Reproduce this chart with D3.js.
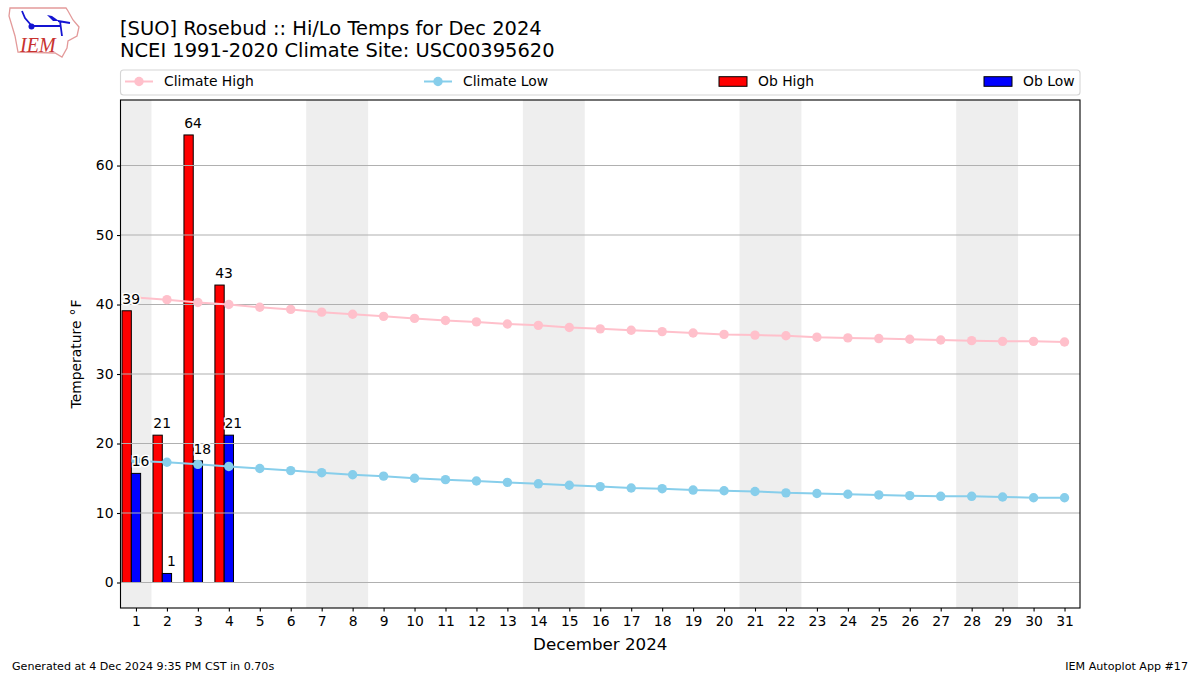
<!DOCTYPE html>
<html>
<head>
<meta charset="utf-8">
<script src="https://cdn.jsdelivr.net/npm/d3@7"></script>
<style>
  html, body { margin: 0; padding: 0; background: #fff; }
  text { font-family: "DejaVu Sans", sans-serif; fill: #000; }
</style>
</head>
<body>
<script>
const days = d3.range(1, 32)
const climateHigh = [41.0,40.7,40.3,40.0,39.6,39.3,38.9,38.6,38.3,38.0,37.7,37.5,37.2,37.0,36.7,36.5,36.3,36.1,35.9,35.7,35.6,35.5,35.3,35.2,35.1,35.0,34.9,34.8,34.7,34.7,34.6]
const climateLow = [17.5,17.3,17.0,16.7,16.4,16.1,15.8,15.5,15.3,15.0,14.8,14.6,14.4,14.2,14.0,13.8,13.6,13.5,13.3,13.2,13.1,12.9,12.8,12.7,12.6,12.5,12.4,12.4,12.3,12.2,12.2]
const obDays = [1, 2, 3, 4]
const obHigh = [39.1, 21.2, 64.4, 42.8]
const obLow = [15.7, 1.3, 17.5, 21.2]
const weekends = [[0.5, 1.5], [6.5, 8.5], [13.5, 15.5], [20.5, 22.5], [27.5, 29.5]]
const yTicks = [0, 10, 20, 30, 40, 50, 60]
const legendItems = [
  { label: 'Climate High', kind: 'line', color: 'pink', x: 125 },
  { label: 'Climate Low', kind: 'line', color: 'skyblue', x: 424 },
  { label: 'Ob High', kind: 'bar', color: 'red', x: 719 },
  { label: 'Ob Low', kind: 'bar', color: 'blue', x: 984 }
]

const w = 1200
const h = 675
const plotLeft = 120.5
const plotRight = 1080
const plotTop = 100
const plotBottom = 608
const dotR = 4.7

const svg = d3.select('body').append('svg')
  .attr('width', w)
  .attr('height', h)
  .style('display', 'block')

const xScale = d3.scaleLinear().domain([0.5, 31.5]).range([plotLeft, plotRight])
const yScale = d3.scaleLinear().domain([-3.67, 69.43]).range([plotBottom, plotTop])
const barW = xScale(0.3) - xScale(0)

// weekend shading
svg.selectAll('.weekend')
  .data(weekends)
  .enter()
  .append('rect')
  .attr('class', 'weekend')
  .attr('x', d => xScale(d[0]))
  .attr('y', plotTop)
  .attr('width', d => xScale(d[1]) - xScale(d[0]))
  .attr('height', plotBottom - plotTop)
  .attr('fill', '#eeeeee')

const bars = (values, offset, color) => {
  svg.selectAll('.bar-' + color)
    .data(values)
    .enter()
    .append('rect')
    .attr('class', 'bar-' + color)
    .attr('x', (d, i) => xScale(obDays[i] + offset) - barW / 2)
    .attr('y', d => yScale(d))
    .attr('width', barW)
    .attr('height', d => yScale(0) - yScale(d))
    .attr('fill', color)
    .attr('stroke', '#000')
    .attr('stroke-width', 1)
}
bars(obHigh, -0.3, 'red')
bars(obLow, 0, 'blue')

// gridlines sit on top of the bars
svg.selectAll('.grid')
  .data(yTicks)
  .enter()
  .append('line')
  .attr('class', 'grid')
  .attr('x1', plotLeft)
  .attr('x2', plotRight)
  .attr('y1', d => yScale(d))
  .attr('y2', d => yScale(d))
  .attr('stroke', '#b0b0b0')
  .attr('stroke-width', 1.1)

const climate = (values, color) => {
  svg.append('path')
    .attr('d', d3.line().x((d, i) => xScale(days[i])).y(d => yScale(d))(values))
    .attr('fill', 'none')
    .attr('stroke', color)
    .attr('stroke-width', 2)
  svg.selectAll('.dot-' + color)
    .data(values)
    .enter()
    .append('circle')
    .attr('class', 'dot-' + color)
    .attr('cx', (d, i) => xScale(days[i]))
    .attr('cy', d => yScale(d))
    .attr('r', dotR)
    .attr('fill', color)
}
climate(climateHigh, 'pink')
climate(climateLow, 'skyblue')

// value labels, white halo over the lines
const barLabels = (values, offset) => {
  svg.selectAll(null)
    .data(values)
    .enter()
    .append('text')
    .attr('x', (d, i) => xScale(obDays[i] + offset) + 4.5)
    .attr('y', d => yScale(d) - 7)
    .attr('text-anchor', 'middle')
    .attr('font-size', 13.9)
    .attr('stroke', '#fff')
    .attr('stroke-width', 3)
    .attr('paint-order', 'stroke')
    .text(d => Math.round(d))
}
barLabels(obHigh, -0.3)
barLabels(obLow, 0)

// axes
const xAxis = d3.axisBottom(xScale).tickValues(days).tickFormat(d => d).tickSize(3.5).tickPadding(5)
const yAxis = d3.axisLeft(yScale).tickValues(yTicks).tickSize(3.5).tickPadding(3.5)
const gx = svg.append('g').attr('transform', `translate(0, ${plotBottom})`).call(xAxis)
const gy = svg.append('g').attr('transform', `translate(${plotLeft}, 0)`).call(yAxis)
;[gx, gy].forEach(g => {
  g.select('.domain').remove()
  g.selectAll('line').attr('stroke', '#000').attr('stroke-width', 1.1)
  g.selectAll('text').attr('font-size', 13.9).attr('font-family', '"DejaVu Sans", sans-serif').attr('fill', '#000')
})

svg.append('rect')
  .attr('x', plotLeft)
  .attr('y', plotTop)
  .attr('width', plotRight - plotLeft)
  .attr('height', plotBottom - plotTop)
  .attr('fill', 'none')
  .attr('stroke', '#000')
  .attr('stroke-width', 1.1)

const yLabel = svg.append('text')
  .attr('text-anchor', 'middle')
  .attr('transform', `translate(81, ${(plotTop + plotBottom) / 2}) rotate(-90)`)
  .attr('font-size', 13.9)
yLabel.append('tspan').text('Temperature')
yLabel.append('tspan').attr('dx', 5).text('°')
yLabel.append('tspan').attr('dx', 1).text('F')

svg.append('text')
  .attr('x', (plotLeft + plotRight) / 2)
  .attr('y', 650)
  .attr('text-anchor', 'middle')
  .attr('font-size', 16.7)
  .text('December 2024')

// title
svg.append('text').attr('x', 120).attr('y', 35).attr('font-size', 19.45).text('[SUO] Rosebud :: Hi/Lo Temps for Dec 2024')
svg.append('text').attr('x', 120).attr('y', 57).attr('font-size', 19.45).text('NCEI 1991-2020 Climate Site: USC00395620')

// footer
svg.append('text').attr('x', 12).attr('y', 670).attr('font-size', 11.12).text('Generated at 4 Dec 2024 9:35 PM CST in 0.70s')
svg.append('text').attr('x', 1188).attr('y', 670).attr('text-anchor', 'end').attr('font-size', 11.12).text('IEM Autoplot App #17')

// legend
svg.append('rect')
  .attr('x', plotLeft)
  .attr('y', 70)
  .attr('width', plotRight - plotLeft)
  .attr('height', 25)
  .attr('rx', 3)
  .attr('fill', '#fff')
  .attr('stroke', '#d5d5d5')
  .attr('stroke-width', 1.1)

const legend = svg.selectAll('.legend')
  .data(legendItems)
  .enter()
  .append('g')
  .attr('class', 'legend')
  .attr('transform', d => `translate(${d.x}, 81.5)`)

legend.each(function(d) {
  const g = d3.select(this)
  if (d.kind === 'line') {
    g.append('line').attr('x1', 0).attr('x2', 28).attr('stroke', d.color).attr('stroke-width', 2)
    g.append('circle').attr('cx', 14).attr('r', dotR).attr('fill', d.color)
  } else {
    g.append('rect').attr('x', 0).attr('y', -4.8).attr('width', 28).attr('height', 9.6)
      .attr('fill', d.color).attr('stroke', '#000').attr('stroke-width', 1)
  }
})

legend.append('text')
  .attr('x', 39)
  .attr('y', 4.5)
  .attr('font-size', 13.9)
  .text(d => d.label)

// IEM logo
const logo = svg.append('g')
logo.append('path')
  .attr('d', 'M10 8 L66 8 L68 11 L73 20 L79 27 L77 36 L68 41 L67 48 L62 57 L55 53 L18 52 L15 36 L9 16 Z')
  .attr('fill', '#fff')
  .attr('stroke', '#e39a9a')
  .attr('stroke-width', 1.3)
logo.append('path')
  .attr('d', 'M32 26 L60 26 M60 21 L62 36 M58 21 L70 23 M22 11 L25 18 L31 25')
  .attr('fill', 'none')
  .attr('stroke', '#1414d2')
  .attr('stroke-width', 1.8)
logo.append('path')
  .attr('d', 'M47 15 L52 16 L59 21 L53 21 Z')
  .attr('fill', '#1414d2')
logo.append('circle').attr('cx', 31.5).attr('cy', 26.5).attr('r', 3).attr('fill', '#1414d2')
logo.append('text')
  .attr('x', 20)
  .attr('y', 52)
  .attr('font-style', 'italic')
  .attr('font-size', 20)
  .style('fill', '#c8322f')
  .style('font-family', '"Liberation Serif", serif')
  .text('IEM')
</script>
</body>
</html>
